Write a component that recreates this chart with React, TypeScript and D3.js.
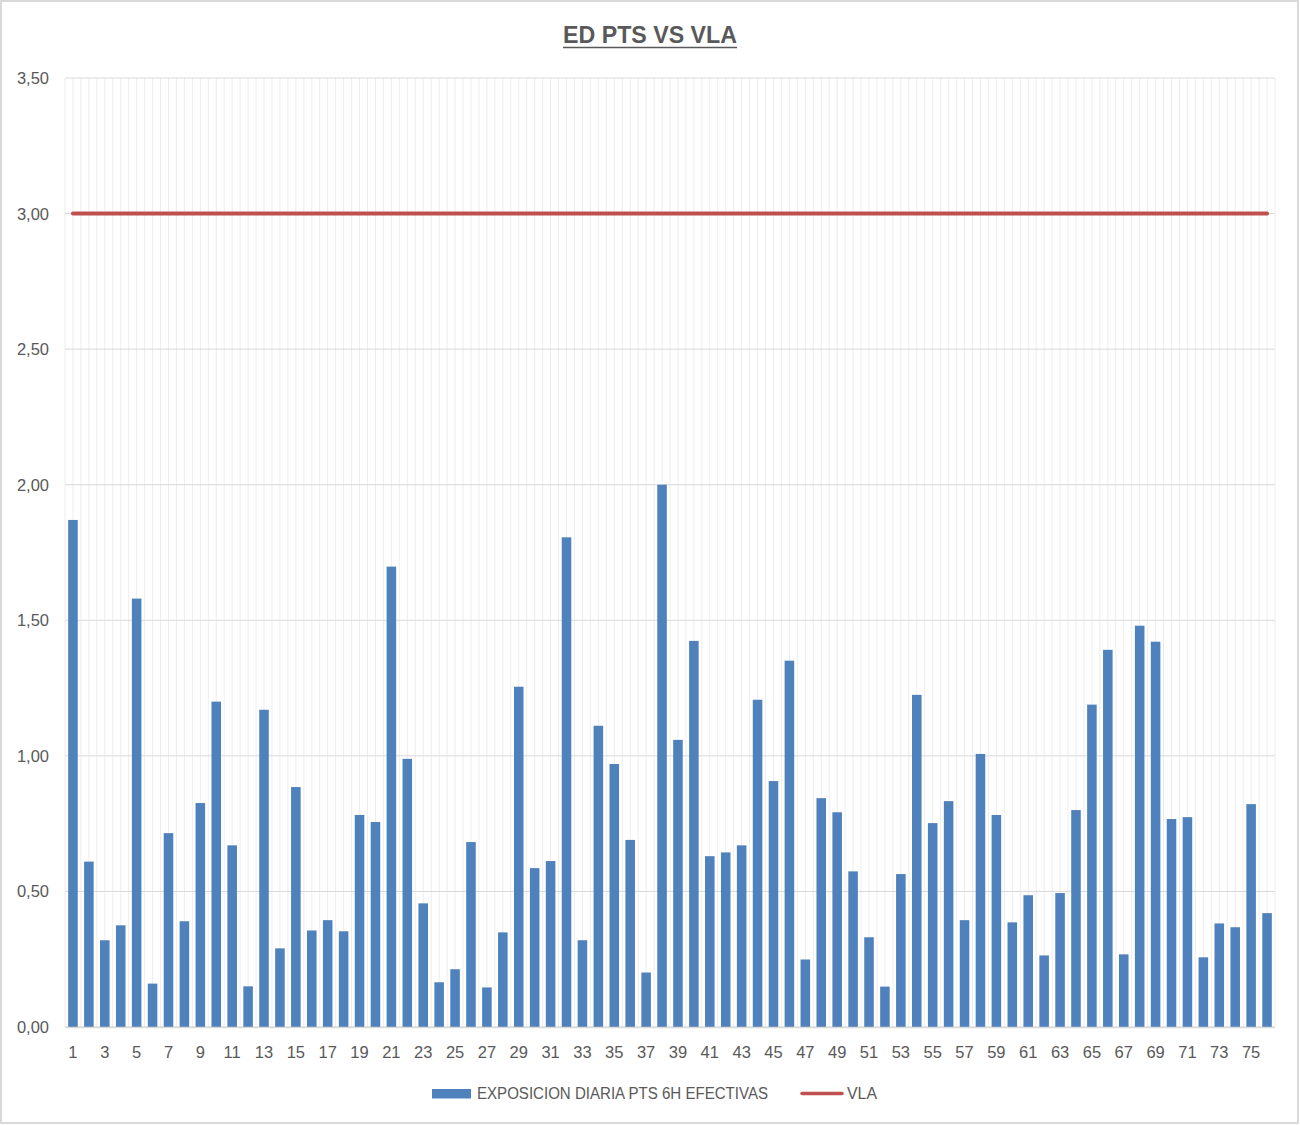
import React from "react";
import * as d3 from "d3";

const categories: number[] = d3.range(1, 77);

const exposicion: number[] = [
  1.87, 0.61, 0.32, 0.375, 1.58, 0.16, 0.715, 0.39, 0.826, 1.2,
  0.67, 0.15, 1.17, 0.29, 0.885, 0.356, 0.394, 0.353, 0.782, 0.756,
  1.698, 0.989, 0.456, 0.165, 0.213, 0.682, 0.146, 0.349, 1.255, 0.586,
  0.612, 1.806, 0.32, 1.111, 0.97, 0.69, 0.201, 2.0, 1.059, 1.424,
  0.63, 0.644, 0.67, 1.207, 0.907, 1.351, 0.249, 0.844, 0.792, 0.574,
  0.331, 0.149, 0.564, 1.225, 0.752, 0.833, 0.394, 1.007, 0.782, 0.386,
  0.486, 0.264, 0.494, 0.8, 1.189, 1.391, 0.268, 1.48, 1.421, 0.767,
  0.774, 0.257, 0.382, 0.368, 0.822, 0.42,
];

const vla: number[] = categories.map(() => 3.0);

const yTicks: number[] = [0, 0.5, 1.0, 1.5, 2.0, 2.5, 3.0, 3.5];

const title = "ED PTS VS VLA";
const seriesBarName = "EXPOSICION DIARIA PTS 6H EFECTIVAS";
const seriesLineName = "VLA";

const W = 1300;
const H = 1125;
const plotLeft = 65;
const plotRight = 1275;
const plotTop = 78;
const plotBottom = 1027;

const BLUE = "#4f81bd";
const RED = "#c0504d";
const TEXT = "#595959";
const FONT = "'Liberation Sans', Arial, sans-serif";

export default function App() {
  const x = d3
    .scaleBand<number>()
    .domain(categories)
    .range([plotLeft, plotRight])
    .paddingInner(0.4)
    .paddingOuter(0.2);
  const step = x.step();
  const y = d3.scaleLinear().domain([0, 3.5]).range([plotBottom, plotTop]);
  const fmt = (v: number) => d3.format(".2f")(v).replace(".", ",");

  const vGrid: number[] = d3.range(0, categories.length * 2 + 1).map((k) => plotLeft + (k * step) / 2);

  const line = d3
    .line<number>()
    .x((_, i) => (x(categories[i]) as number) + x.bandwidth() / 2)
    .y((d) => y(d));

  return (
    <svg
      width={W}
      height={H}
      style={{ position: "absolute", left: 0, top: 0, background: "#fff" }}
      fontFamily={FONT}
    >
      <rect x={1} y={1} width={W - 3} height={H - 3} fill="#fff" stroke="#d9d9d9" strokeWidth={2} />

      {/* title */}
      <text
        x={650}
        y={43}
        textAnchor="middle"
        fontSize={23}
        fontWeight="bold"
        fill={TEXT}
        textLength={174}
        lengthAdjust="spacingAndGlyphs"
      >
        {title}
      </text>
      <line x1={563} x2={737} y1={47.5} y2={47.5} stroke={TEXT} strokeWidth={1.6} />

      {/* vertical gridlines */}
      {vGrid.map((gx, i) => (
        <line key={"v" + i} x1={gx} x2={gx} y1={plotTop} y2={plotBottom} stroke="#ededed" strokeWidth={1} />
      ))}

      {/* horizontal gridlines */}
      {yTicks.map((t) => (
        <line key={"h" + t} x1={plotLeft} x2={plotRight} y1={y(t)} y2={y(t)} stroke="#d9d9d9" strokeWidth={1} />
      ))}

      {/* y tick labels */}
      {yTicks.map((t) => (
        <text key={"yl" + t} x={49} y={y(t) + 6} textAnchor="end" fontSize={16.5} fill={TEXT}>
          {fmt(t)}
        </text>
      ))}

      {/* bars */}
      {exposicion.map((v, i) => (
        <rect
          key={"b" + i}
          x={x(categories[i]) as number}
          y={y(v)}
          width={x.bandwidth()}
          height={y(0) - y(v)}
          fill={BLUE}
        />
      ))}

      {/* x axis line */}
      <line x1={plotLeft} x2={plotRight} y1={plotBottom + 0.5} y2={plotBottom + 0.5} stroke="#d9d9d9" strokeWidth={1.5} />

      {/* x tick labels */}
      {categories
        .filter((c) => c % 2 === 1)
        .map((c) => (
          <text
            key={"xl" + c}
            x={(x(c) as number) + x.bandwidth() / 2}
            y={1058}
            textAnchor="middle"
            fontSize={16.5}
            fill={TEXT}
          >
            {c}
          </text>
        ))}

      {/* VLA line */}
      <path d={line(vla) || ""} fill="none" stroke={RED} strokeWidth={4} strokeLinecap="round" />

      {/* legend */}
      <rect x={432} y={1089} width={39} height={9.5} fill={BLUE} />
      <text
        x={477}
        y={1099}
        fontSize={16}
        fill={TEXT}
        textLength={291}
        lengthAdjust="spacingAndGlyphs"
      >
        {seriesBarName}
      </text>
      <line x1={802} x2={842} y1={1093.5} y2={1093.5} stroke={RED} strokeWidth={3.5} strokeLinecap="round" />
      <text x={847} y={1099} fontSize={16} fill={TEXT} textLength={30} lengthAdjust="spacingAndGlyphs">
        {seriesLineName}
      </text>
    </svg>
  );
}
